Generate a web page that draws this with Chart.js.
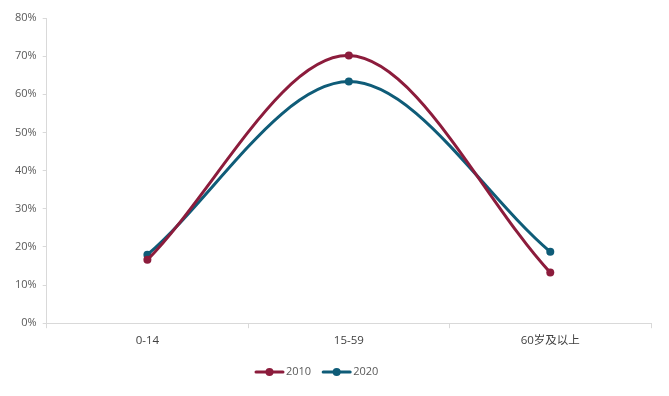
<!DOCTYPE html>
<html><head><meta charset="utf-8">
<script src="https://cdn.jsdelivr.net/npm/chart.js@4"></script>
<style>html,body{margin:0;padding:0;background:#fff}#wrap{width:669px;height:396px}</style>
</head><body><div id="wrap"><canvas id="c" width="669" height="396"></canvas></div>
<script>
const categories = ['0-14', '15-59', '60岁及以上'];
const series2010 = [16.6, 70.14, 13.26];
const series2020 = [17.95, 63.35, 18.7];
const yTicksMax = 80;

const C2010 = '#8c1c3c';
const C2020 = '#0f5c78';

const font = "'Open Sans', 'Noto Sans CJK SC', sans-serif";

const customLegend = {
  id: 'customLegend',
  afterDraw(chart) {
    const ctx = chart.ctx;
    ctx.save();
    ctx.font = '11px ' + font;
    ctx.textBaseline = 'middle';
    ctx.textAlign = 'left';
    const y = 372;
    let x = 255;
    chart.data.datasets.forEach(ds => {
      ctx.strokeStyle = ds.borderColor; ctx.lineWidth = 3; ctx.lineCap = 'round';
      ctx.beginPath(); ctx.moveTo(x + 1, y); ctx.lineTo(x + 28, y); ctx.stroke();
      ctx.fillStyle = ds.borderColor;
      ctx.beginPath(); ctx.arc(x + 14.5, y, 4, 0, Math.PI * 2); ctx.fill();
      ctx.fillStyle = '#595959';
      ctx.fillText(ds.label, x + 31, y);
      x += 31 + ctx.measureText(ds.label).width + 11;
    });
    ctx.restore();
  }
};

new Chart(document.getElementById('c'), {
  type: 'line',
  data: {
    labels: categories,
    datasets: [
      { label: '2010', data: series2010, borderColor: C2010, backgroundColor: C2010,
        borderWidth: 3, pointRadius: 4, pointBorderWidth: 0, pointHoverRadius: 4, tension: 0.33 },
      { label: '2020', data: series2020, borderColor: C2020, backgroundColor: C2020,
        borderWidth: 3, pointRadius: 4, pointBorderWidth: 0, pointHoverRadius: 4, tension: 0.33 }
    ]
  },
  plugins: [customLegend],
  options: {
    responsive: false,
    animation: false,
    layout: { padding: { left: 9, right: 18, top: 18, bottom: 42 } },
    plugins: {
      tooltip: { enabled: false },
      legend: { display: false }
    },
    scales: {
      x: {
        offset: true,
        grid: { display: true, drawOnChartArea: false, offset: true, tickLength: 5, color: '#d9d9d9' },
        border: { color: '#d9d9d9' },
        ticks: { color: '#404040', font: { family: font, size: 11.5 }, padding: 6, maxRotation: 0 }
      },
      y: {
        min: 0, max: yTicksMax,
        grid: { display: true, drawOnChartArea: false, tickLength: 4, color: '#d9d9d9' },
        border: { color: '#d9d9d9' },
        ticks: { stepSize: 10, color: '#595959', font: { family: font, size: 11 }, padding: 6,
          callback: v => v + '%' }
      }
    }
  }
});
</script></body></html>
